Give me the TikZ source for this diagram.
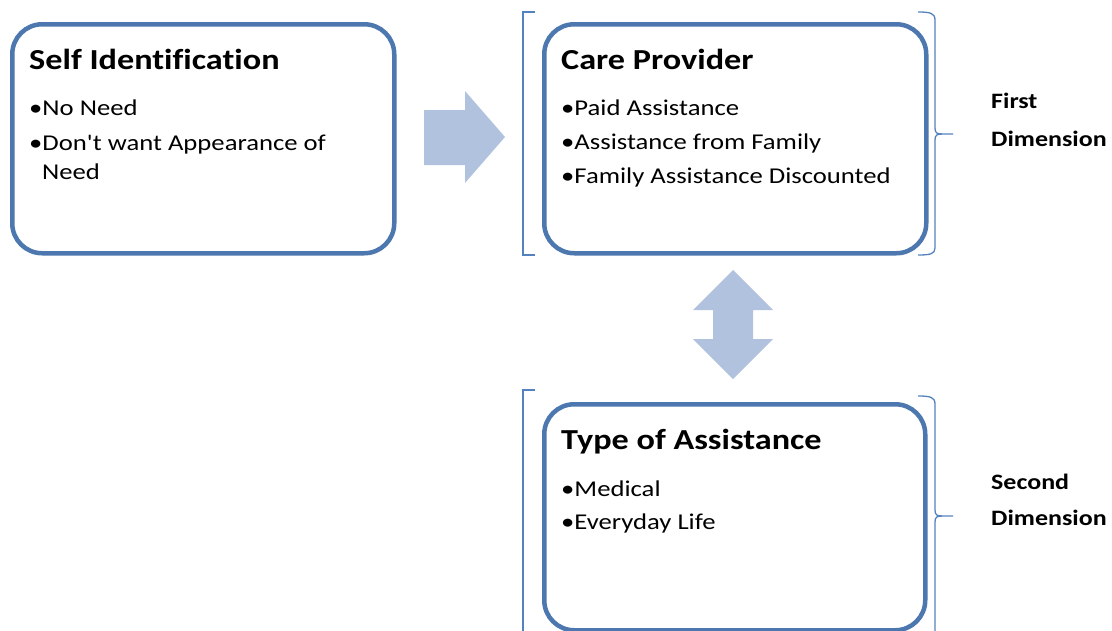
\documentclass[tikz,border=0pt]{standalone}
\usepackage{fontspec}
\setmainfont{Carlito}[FakeStretch=1.18, Ligatures={TeXOff,CommonOff}]
\definecolor{boxblue}{RGB}{76,120,175}
\definecolor{brblue}{RGB}{84,130,190}
\definecolor{arrowfill}{RGB}{176,194,222}
\tikzset{
  card/.style={draw=boxblue, line width=4.5pt, rounded corners=30pt, fill=white},
  ttl/.style={anchor=base west, inner sep=0pt, font=\fontsize{29}{33}\selectfont\bfseries},
  itm/.style={anchor=base west, inner sep=0pt, font=\fontsize{22.6}{27}\selectfont},
  dim/.style={anchor=base west, inner sep=0pt, font=\fontsize{22}{26}\selectfont\bfseries},
  brk/.style={draw=brblue, line width=1.3pt},
  blk/.style={fill=arrowfill, draw=none}
}
\begin{document}
\begin{tikzpicture}[x=1pt,y=-1pt]
\useasboundingbox (0,0) rectangle (1112,630);
% brackets
\draw[brk] (535,12) -- (523,12) -- (523,255) -- (535,255);
\draw[brk] (918,12) .. controls (930,12) and (935,13) .. (935,20) -- (935,128)
  .. controls (935,133) and (937,134) .. (942,134) -- (953,134);
\draw[brk] (942,134) .. controls (937,134) and (935,135) .. (935,140) -- (935,248)
  .. controls (935,254) and (930,255) .. (918,255);
\draw[brk] (535,390) -- (523,390) -- (523,640);
\draw[brk] (918,396) .. controls (930,396) and (935,397) .. (935,404) -- (935,510)
  .. controls (935,515) and (937,516) .. (942,516) -- (953,516);
\draw[brk] (942,516) .. controls (937,516) and (935,517) .. (935,522) -- (935,640);
% boxes
\node[card, minimum width=382pt, minimum height=229pt, anchor=north west] (self) at (10,22) {};
\node[card, minimum width=382pt, minimum height=229pt, anchor=north west] (care) at (542,22) {};
\node[card, minimum width=381pt, minimum height=226pt, anchor=north west] (type) at (542,402) {};
% block arrows
\path[blk] (424,110) -- (465,110) -- (465,91) -- (505,137) -- (465,183) -- (465,165) -- (424,165) -- cycle;
\path[blk] (733,270) -- (773,310) -- (753,310) -- (753,339) -- (773,339) -- (733,379)
  -- (693,339) -- (713,339) -- (713,310) -- (693,310) -- cycle;
% texts
\node[ttl] (t1) at (29,69) {Self Identification};
\node[itm] (a1) at (29,115) {•No Need};
\node[itm] (a2) at (29,150) {•Don't want Appearance of};
\node[itm] (a3) at (42,179) {Need};
\node[ttl] (t2) at (561,69) {Care Provider};
\node[itm] (b1) at (561,115) {•Paid Assistance};
\node[itm] (b2) at (561,149) {•Assistance from Family};
\node[itm] (b3) at (561,183) {•Family Assistance Discounted};
\node[ttl] (t3) at (561,449) {Type of Assistance};
\node[itm] (c1) at (561,496) {•Medical};
\node[itm] (c2) at (561,529) {•Everyday Life};
\node[dim] (d1) at (991,108) {First};
\node[dim] (d2) at (991,146) {Dimension};
\node[dim] (d3) at (991,489) {Second};
\node[dim] (d4) at (991,525) {Dimension};
\end{tikzpicture}
\end{document}
